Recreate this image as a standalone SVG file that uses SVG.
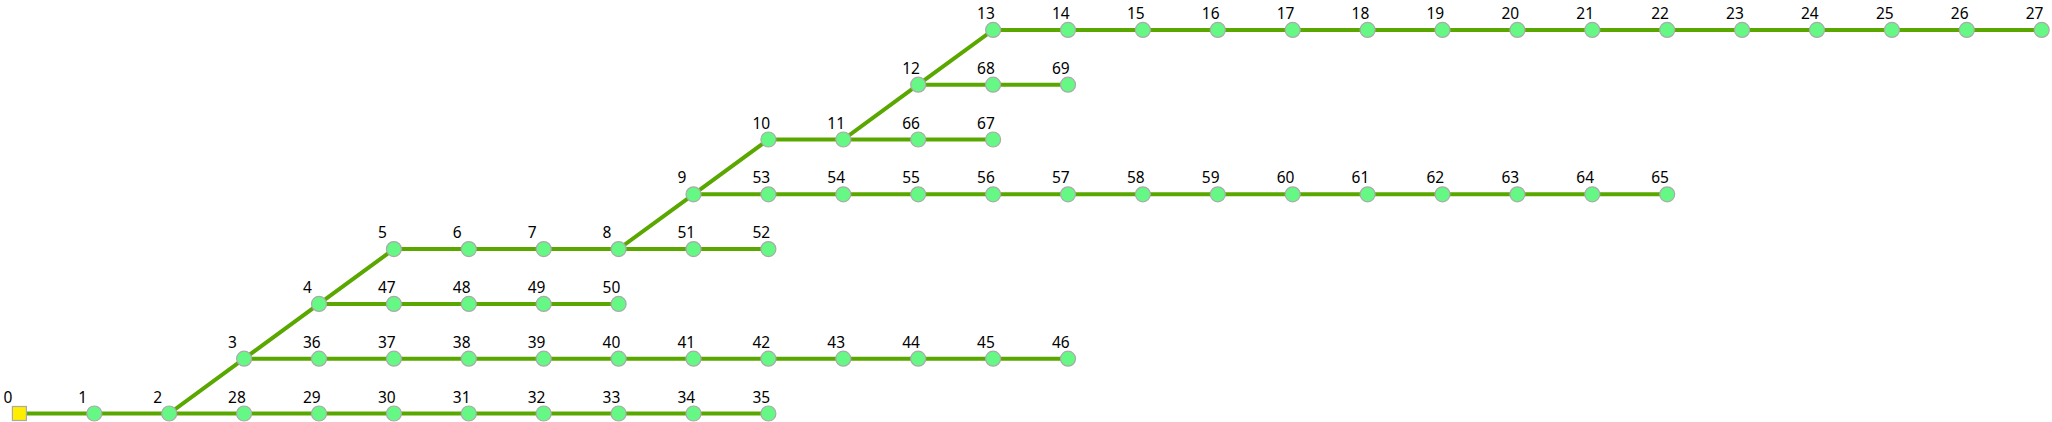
<svg xmlns="http://www.w3.org/2000/svg" width="2052" height="422" viewBox="0 0 2052 422">
<style>
.e{stroke:#5aa700;stroke-width:4;fill:none;stroke-linecap:butt}
.n{fill:#66f884;stroke:#aaaaaa;stroke-width:1.2}
.s{fill:#ffee00;stroke:#aaaaaa;stroke-width:1.2}
.t{font-family:"Noto Sans","DejaVu Sans",sans-serif;font-size:15.5px;fill:#000}
</style>
<rect width="2052" height="422" fill="#ffffff"/>
<g id="connectors">
<path class="e" d="M19.4 413.5H169.2L244.1 358.7L319 303.9L393.9 249.1L618.6 249.1L693.5 194.3L768.4 139.5L843.3 139.5L918.2 84.7L993.1 29.9H2041.8"/>
<path class="e" d="M169.2 413.5H768.4"/>
<path class="e" d="M244.1 358.7H1068"/>
<path class="e" d="M319 303.9H618.6"/>
<path class="e" d="M618.6 249.1H768.4"/>
<path class="e" d="M693.5 194.3H1667.2"/>
<path class="e" d="M843.3 139.5H993.1"/>
<path class="e" d="M918.2 84.7H1068"/>
</g>
<g id="node-0"><rect class="s" x="12.4" y="406.5" width="14" height="14"/><text class="t" x="3.4" y="402.5">0</text></g>
<g id="node-1"><circle class="n" cx="94.3" cy="413.5" r="7.5"/><text class="t" x="78.3" y="402.5">1</text></g>
<g id="node-2"><circle class="n" cx="169.2" cy="413.5" r="7.5"/><text class="t" x="153.2" y="402.5">2</text></g>
<g id="node-28"><circle class="n" cx="244.1" cy="413.5" r="7.5"/><text class="t" x="228.1" y="402.5">28</text></g>
<g id="node-29"><circle class="n" cx="319" cy="413.5" r="7.5"/><text class="t" x="303" y="402.5">29</text></g>
<g id="node-30"><circle class="n" cx="393.9" cy="413.5" r="7.5"/><text class="t" x="377.9" y="402.5">30</text></g>
<g id="node-31"><circle class="n" cx="468.8" cy="413.5" r="7.5"/><text class="t" x="452.8" y="402.5">31</text></g>
<g id="node-32"><circle class="n" cx="543.7" cy="413.5" r="7.5"/><text class="t" x="527.7" y="402.5">32</text></g>
<g id="node-33"><circle class="n" cx="618.6" cy="413.5" r="7.5"/><text class="t" x="602.6" y="402.5">33</text></g>
<g id="node-34"><circle class="n" cx="693.5" cy="413.5" r="7.5"/><text class="t" x="677.5" y="402.5">34</text></g>
<g id="node-35"><circle class="n" cx="768.4" cy="413.5" r="7.5"/><text class="t" x="752.4" y="402.5">35</text></g>
<g id="node-3"><circle class="n" cx="244.1" cy="358.7" r="7.5"/><text class="t" x="228.1" y="347.7">3</text></g>
<g id="node-36"><circle class="n" cx="319" cy="358.7" r="7.5"/><text class="t" x="303" y="347.7">36</text></g>
<g id="node-37"><circle class="n" cx="393.9" cy="358.7" r="7.5"/><text class="t" x="377.9" y="347.7">37</text></g>
<g id="node-38"><circle class="n" cx="468.8" cy="358.7" r="7.5"/><text class="t" x="452.8" y="347.7">38</text></g>
<g id="node-39"><circle class="n" cx="543.7" cy="358.7" r="7.5"/><text class="t" x="527.7" y="347.7">39</text></g>
<g id="node-40"><circle class="n" cx="618.6" cy="358.7" r="7.5"/><text class="t" x="602.6" y="347.7">40</text></g>
<g id="node-41"><circle class="n" cx="693.5" cy="358.7" r="7.5"/><text class="t" x="677.5" y="347.7">41</text></g>
<g id="node-42"><circle class="n" cx="768.4" cy="358.7" r="7.5"/><text class="t" x="752.4" y="347.7">42</text></g>
<g id="node-43"><circle class="n" cx="843.3" cy="358.7" r="7.5"/><text class="t" x="827.3" y="347.7">43</text></g>
<g id="node-44"><circle class="n" cx="918.2" cy="358.7" r="7.5"/><text class="t" x="902.2" y="347.7">44</text></g>
<g id="node-45"><circle class="n" cx="993.1" cy="358.7" r="7.5"/><text class="t" x="977.1" y="347.7">45</text></g>
<g id="node-46"><circle class="n" cx="1068" cy="358.7" r="7.5"/><text class="t" x="1052" y="347.7">46</text></g>
<g id="node-4"><circle class="n" cx="319" cy="303.9" r="7.5"/><text class="t" x="303" y="292.9">4</text></g>
<g id="node-47"><circle class="n" cx="393.9" cy="303.9" r="7.5"/><text class="t" x="377.9" y="292.9">47</text></g>
<g id="node-48"><circle class="n" cx="468.8" cy="303.9" r="7.5"/><text class="t" x="452.8" y="292.9">48</text></g>
<g id="node-49"><circle class="n" cx="543.7" cy="303.9" r="7.5"/><text class="t" x="527.7" y="292.9">49</text></g>
<g id="node-50"><circle class="n" cx="618.6" cy="303.9" r="7.5"/><text class="t" x="602.6" y="292.9">50</text></g>
<g id="node-5"><circle class="n" cx="393.9" cy="249.1" r="7.5"/><text class="t" x="377.9" y="238.1">5</text></g>
<g id="node-6"><circle class="n" cx="468.8" cy="249.1" r="7.5"/><text class="t" x="452.8" y="238.1">6</text></g>
<g id="node-7"><circle class="n" cx="543.7" cy="249.1" r="7.5"/><text class="t" x="527.7" y="238.1">7</text></g>
<g id="node-8"><circle class="n" cx="618.6" cy="249.1" r="7.5"/><text class="t" x="602.6" y="238.1">8</text></g>
<g id="node-51"><circle class="n" cx="693.5" cy="249.1" r="7.5"/><text class="t" x="677.5" y="238.1">51</text></g>
<g id="node-52"><circle class="n" cx="768.4" cy="249.1" r="7.5"/><text class="t" x="752.4" y="238.1">52</text></g>
<g id="node-9"><circle class="n" cx="693.5" cy="194.3" r="7.5"/><text class="t" x="677.5" y="183.3">9</text></g>
<g id="node-53"><circle class="n" cx="768.4" cy="194.3" r="7.5"/><text class="t" x="752.4" y="183.3">53</text></g>
<g id="node-54"><circle class="n" cx="843.3" cy="194.3" r="7.5"/><text class="t" x="827.3" y="183.3">54</text></g>
<g id="node-55"><circle class="n" cx="918.2" cy="194.3" r="7.5"/><text class="t" x="902.2" y="183.3">55</text></g>
<g id="node-56"><circle class="n" cx="993.1" cy="194.3" r="7.5"/><text class="t" x="977.1" y="183.3">56</text></g>
<g id="node-57"><circle class="n" cx="1068" cy="194.3" r="7.5"/><text class="t" x="1052" y="183.3">57</text></g>
<g id="node-58"><circle class="n" cx="1142.9" cy="194.3" r="7.5"/><text class="t" x="1126.9" y="183.3">58</text></g>
<g id="node-59"><circle class="n" cx="1217.8" cy="194.3" r="7.5"/><text class="t" x="1201.8" y="183.3">59</text></g>
<g id="node-60"><circle class="n" cx="1292.7" cy="194.3" r="7.5"/><text class="t" x="1276.7" y="183.3">60</text></g>
<g id="node-61"><circle class="n" cx="1367.6" cy="194.3" r="7.5"/><text class="t" x="1351.6" y="183.3">61</text></g>
<g id="node-62"><circle class="n" cx="1442.5" cy="194.3" r="7.5"/><text class="t" x="1426.5" y="183.3">62</text></g>
<g id="node-63"><circle class="n" cx="1517.4" cy="194.3" r="7.5"/><text class="t" x="1501.4" y="183.3">63</text></g>
<g id="node-64"><circle class="n" cx="1592.3" cy="194.3" r="7.5"/><text class="t" x="1576.3" y="183.3">64</text></g>
<g id="node-65"><circle class="n" cx="1667.2" cy="194.3" r="7.5"/><text class="t" x="1651.2" y="183.3">65</text></g>
<g id="node-10"><circle class="n" cx="768.4" cy="139.5" r="7.5"/><text class="t" x="752.4" y="128.5">10</text></g>
<g id="node-11"><circle class="n" cx="843.3" cy="139.5" r="7.5"/><text class="t" x="827.3" y="128.5">11</text></g>
<g id="node-66"><circle class="n" cx="918.2" cy="139.5" r="7.5"/><text class="t" x="902.2" y="128.5">66</text></g>
<g id="node-67"><circle class="n" cx="993.1" cy="139.5" r="7.5"/><text class="t" x="977.1" y="128.5">67</text></g>
<g id="node-12"><circle class="n" cx="918.2" cy="84.7" r="7.5"/><text class="t" x="902.2" y="73.7">12</text></g>
<g id="node-68"><circle class="n" cx="993.1" cy="84.7" r="7.5"/><text class="t" x="977.1" y="73.7">68</text></g>
<g id="node-69"><circle class="n" cx="1068" cy="84.7" r="7.5"/><text class="t" x="1052" y="73.7">69</text></g>
<g id="node-13"><circle class="n" cx="993.1" cy="29.9" r="7.5"/><text class="t" x="977.1" y="18.9">13</text></g>
<g id="node-14"><circle class="n" cx="1068" cy="29.9" r="7.5"/><text class="t" x="1052" y="18.9">14</text></g>
<g id="node-15"><circle class="n" cx="1142.9" cy="29.9" r="7.5"/><text class="t" x="1126.9" y="18.9">15</text></g>
<g id="node-16"><circle class="n" cx="1217.8" cy="29.9" r="7.5"/><text class="t" x="1201.8" y="18.9">16</text></g>
<g id="node-17"><circle class="n" cx="1292.7" cy="29.9" r="7.5"/><text class="t" x="1276.7" y="18.9">17</text></g>
<g id="node-18"><circle class="n" cx="1367.6" cy="29.9" r="7.5"/><text class="t" x="1351.6" y="18.9">18</text></g>
<g id="node-19"><circle class="n" cx="1442.5" cy="29.9" r="7.5"/><text class="t" x="1426.5" y="18.9">19</text></g>
<g id="node-20"><circle class="n" cx="1517.4" cy="29.9" r="7.5"/><text class="t" x="1501.4" y="18.9">20</text></g>
<g id="node-21"><circle class="n" cx="1592.3" cy="29.9" r="7.5"/><text class="t" x="1576.3" y="18.9">21</text></g>
<g id="node-22"><circle class="n" cx="1667.2" cy="29.9" r="7.5"/><text class="t" x="1651.2" y="18.9">22</text></g>
<g id="node-23"><circle class="n" cx="1742.1" cy="29.9" r="7.5"/><text class="t" x="1726.1" y="18.9">23</text></g>
<g id="node-24"><circle class="n" cx="1817" cy="29.9" r="7.5"/><text class="t" x="1801" y="18.9">24</text></g>
<g id="node-25"><circle class="n" cx="1891.9" cy="29.9" r="7.5"/><text class="t" x="1875.9" y="18.9">25</text></g>
<g id="node-26"><circle class="n" cx="1966.8" cy="29.9" r="7.5"/><text class="t" x="1950.8" y="18.9">26</text></g>
<g id="node-27"><circle class="n" cx="2041.7" cy="29.9" r="7.5"/><text class="t" x="2025.7" y="18.9">27</text></g>
</svg>
